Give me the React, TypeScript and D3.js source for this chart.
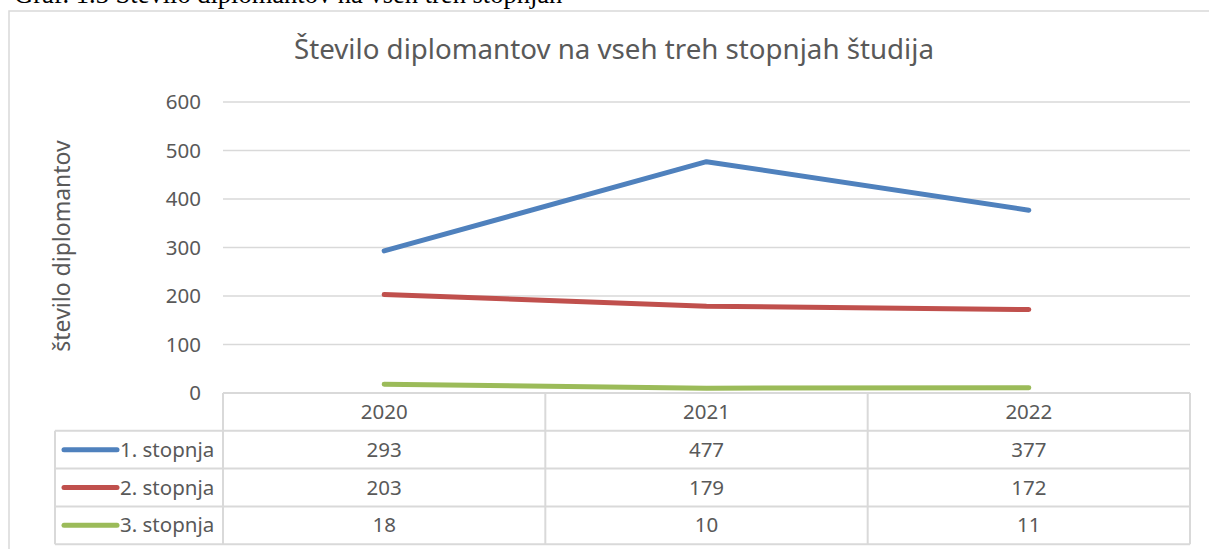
import React from "react";
import * as d3 from "d3";

const categories = ["2020", "2021", "2022"];
const seriesNames = ["1. stopnja", "2. stopnja", "3. stopnja"];
const stopnja1 = [293, 477, 377];
const stopnja2 = [203, 179, 172];
const stopnja3 = [18, 10, 11];
const yTicks = [0, 100, 200, 300, 400, 500, 600];
const colors = ["#4F81BD", "#C0504D", "#9BBB59"];
const title = "Število diplomantov na vseh treh stopnjah študija";
const yTitle = "število diplomantov";
const caption = "Graf. 1.3 Število diplomantov na vseh treh stopnjah";

const W = 1209;
const H = 549;
const FONT = "'Noto Sans', sans-serif";
const TXT = "#595959";
const GRID = "#d9d9d9";

export default function App() {
  const series = [stopnja1, stopnja2, stopnja3];
  const x = d3.scaleBand<string>().domain(categories).range([223, 1190]).padding(0);
  const y = d3.scaleLinear().domain([0, 600]).range([393, 102]);
  const line = d3
    .line<number>()
    .x((_, i) => (x(categories[i]) as number) + x.bandwidth() / 2)
    .y((d) => y(d));
  const rowTop = 393;
  const rowH = 37.8;
  const legendLeft = 55;
  const tableRight = 1190;
  const cols = [223, ...categories.map((c) => (x(c) as number) + x.bandwidth())];

  return (
    <svg
      width={W}
      height={H}
      style={{ position: "absolute", left: 0, top: 0, background: "#fff" }}
    >
      <text x={14} y={3} fontFamily="'Liberation Serif', serif" fontSize={26.5} fill="#000">
        {caption}
      </text>
      {/* chart border */}
      <rect x={9} y={11} width={1230} height={560} fill="none" stroke={GRID} strokeWidth={1.5} />
      <text x={614} y={59} textAnchor="middle" fontFamily={FONT} fontSize={27.7} fill={TXT}>
        {title}
      </text>
      {/* gridlines */}
      {yTicks.map((t) =>
        t === 0 ? null : (
          <line key={t} x1={223} x2={1190} y1={y(t)} y2={y(t)} stroke={GRID} strokeWidth={1.5} />
        )
      )}
      {yTicks.map((t) => (
        <text
          key={"l" + t}
          x={201}
          y={y(t)}
          dy="0.35em"
          textAnchor="end"
          fontFamily={FONT}
          fontSize={20.5}
          fill={TXT}
        >
          {t}
        </text>
      ))}
      <text
        transform={`translate(70,${246}) rotate(-90)`}
        textAnchor="middle"
        fontFamily={FONT}
        fontSize={23}
        fill={TXT}
      >
        {yTitle}
      </text>
      {/* data table */}
      <g stroke={GRID} strokeWidth={2} fill="none">
        <line x1={223} x2={tableRight} y1={rowTop} y2={rowTop} />
        {[1, 2, 3, 4].map((r) => (
          <line key={r} x1={legendLeft} x2={tableRight} y1={rowTop + r * rowH} y2={rowTop + r * rowH} />
        ))}
        {cols.map((cx, i) => (
          <line key={"c" + i} x1={cx} x2={cx} y1={rowTop} y2={rowTop + 4 * rowH} />
        ))}
        <line x1={legendLeft} x2={legendLeft} y1={rowTop + rowH} y2={rowTop + 4 * rowH} />
      </g>
      {categories.map((c) => (
        <text
          key={"h" + c}
          x={(x(c) as number) + x.bandwidth() / 2}
          y={rowTop + rowH / 2}
          dy="0.35em"
          textAnchor="middle"
          fontFamily={FONT}
          fontSize={20.5}
          fill={TXT}
        >
          {c}
        </text>
      ))}
      {series.map((s, si) => (
        <g key={"row" + si}>
          <line
            x1={64}
            x2={117}
            y1={rowTop + (si + 1.5) * rowH}
            y2={rowTop + (si + 1.5) * rowH}
            stroke={colors[si]}
            strokeWidth={5}
            strokeLinecap="round"
          />
          <text
            x={120}
            y={rowTop + (si + 1.5) * rowH}
            dy="0.35em"
            fontFamily={FONT}
            fontSize={20.5}
            fill={TXT}
          >
            {seriesNames[si]}
          </text>
          {s.map((v, i) => (
            <text
              key={i}
              x={(x(categories[i]) as number) + x.bandwidth() / 2}
              y={rowTop + (si + 1.5) * rowH}
              dy="0.35em"
              textAnchor="middle"
              fontFamily={FONT}
              fontSize={20.5}
              fill={TXT}
            >
              {v}
            </text>
          ))}
        </g>
      ))}
      {/* lines */}
      {series.map((s, si) => (
        <path
          key={"p" + si}
          d={line(s) as string}
          fill="none"
          stroke={colors[si]}
          strokeWidth={5}
          strokeLinecap="round"
          strokeLinejoin="round"
        />
      ))}
    </svg>
  );
}
